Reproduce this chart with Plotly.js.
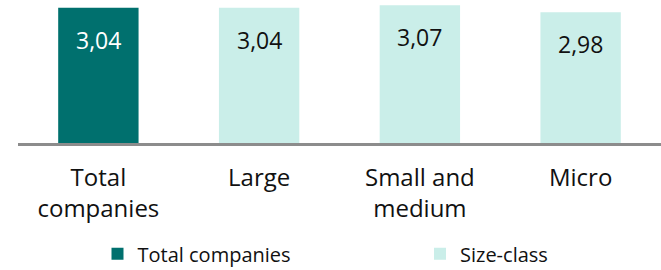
<!DOCTYPE html>
<html>
<head>
<meta charset="utf-8">
<script src="https://cdn.plot.ly/plotly-3.0.1.min.js"></script>
<style>html,body{margin:0;padding:0;background:#fff;}#chart{width:661px;height:270px;}</style>
</head>
<body>
<div id="chart"></div>
<script>
var categories = ["Total<br>companies", "Large", "Small and<br>medium", "Micro"];
var totalValues = [3.04, null, null, null];
var sizeClassValues = [null, 3.04, 3.07, 2.98];
var valueLabels = ["3,04", "3,04", "3,07", "2,98"];
var seriesNames = ["Total companies", "Size-class"];

var darkColor = "#00706E";
var lightColor = "#CAEEE9";

var traces = [
  {type: "bar", name: seriesNames[0], x: categories, y: totalValues, width: 0.5,
   marker: {color: darkColor}, hoverinfo: "skip", legend: "legend"},
  {type: "bar", name: seriesNames[1], x: categories, y: sizeClassValues, width: 0.5,
   marker: {color: lightColor}, hoverinfo: "skip", legend: "legend2"}
];

var annotations = categories.map(function (c, i) {
  var v = totalValues[i] !== null ? totalValues[i] : sizeClassValues[i];
  return {
    x: c, y: v, xref: "x", yref: "y", text: valueLabels[i], showarrow: false,
    yanchor: "top", yshift: -14,
    font: {family: "Open Sans", size: 23, color: totalValues[i] !== null ? "#ffffff" : "#111111"}
  };
});

var legendFont = {family: "Open Sans", size: 20, color: "#111111"};

var layout = {
  width: 661, height: 270,
  margin: {l: 18, r: 0, t: 3, b: 127, autoexpand: false},
  paper_bgcolor: "#ffffff", plot_bgcolor: "#ffffff",
  barmode: "overlay",
  showlegend: true,
  legend: {orientation: "h", xref: "container", x: 0.1475, xanchor: "left",
           yref: "container", y: 0.06, yanchor: "middle", bgcolor: "rgba(0,0,0,0)",
           font: legendFont},
  legend2: {orientation: "h", xref: "container", x: 0.6354, xanchor: "left",
           yref: "container", y: 0.06, yanchor: "middle", bgcolor: "rgba(0,0,0,0)",
           font: legendFont},
  xaxis: {type: "category", showline: true, linecolor: "#8C8C8C", linewidth: 3,
          showgrid: false, zeroline: false, ticks: "", ticklabelstandoff: 11,
          automargin: false,
          tickfont: {family: "Open Sans", size: 24, color: "#111111"}},
  yaxis: {range: [1.3, 3.1], visible: false, showgrid: false, zeroline: false},
  annotations: annotations,
  font: {family: "Open Sans"}
};

Plotly.newPlot("chart", traces, layout, {displayModeBar: false, staticPlot: true});
</script>
</body>
</html>
